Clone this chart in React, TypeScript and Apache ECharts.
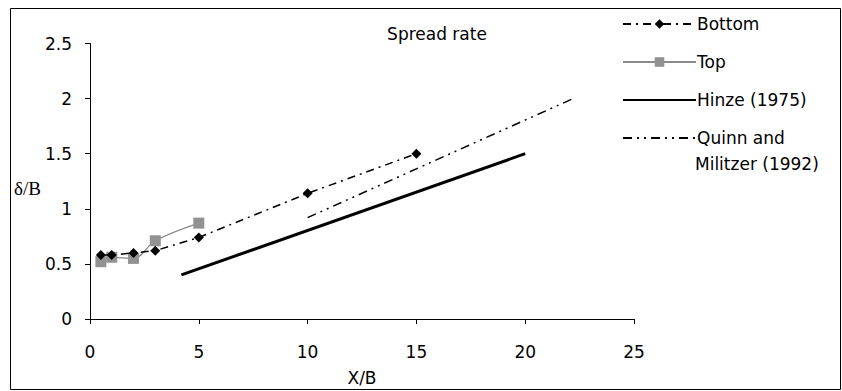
import React, { useEffect, useRef } from "react";
import * as echarts from "echarts";

const bottomData: [number, number][] = [
  [0.5, 0.58], [1, 0.58], [2, 0.6], [3, 0.62], [5, 0.74], [10, 1.14], [15, 1.5],
];
const topData: [number, number][] = [
  [0.5, 0.52], [1, 0.56], [2, 0.55], [3, 0.71], [5, 0.87],
];
const hinzeData: [number, number][] = [[4.2, 0.4], [20, 1.5]];
const quinnData: [number, number][] = [[10, 0.92], [22.2, 2.0]];
const seriesNames = ["Bottom", "Top", "Hinze (1975)", "Quinn and Militzer (1992)"];

const FONT = "DejaVu Sans, Arial, sans-serif";
const FS = 17;

export default function App() {
  const ref = useRef<HTMLDivElement>(null);
  useEffect(() => {
    const chart = echarts.init(ref.current!, null, { renderer: "svg" });
    chart.setOption({
      animation: false,
      backgroundColor: "#fff",
      title: {
        text: "Spread rate",
        left: 432,
        top: 20,
        textAlign: "center",
        textStyle: { fontFamily: FONT, fontSize: FS, fontWeight: "normal", color: "#000", lineHeight: 18 },
      },
      legend: {
        orient: "vertical",
        left: 617,
        top: 10,
        itemWidth: 73,
        itemHeight: 12,
        itemGap: 20,
        data: [
          { name: seriesNames[0] },
          { name: seriesNames[1] },
          { name: seriesNames[2], itemStyle: { opacity: 0 } },
          { name: seriesNames[3], itemStyle: { opacity: 0 } },
        ],
        formatter: (n: string) => (n.startsWith("Quinn") ? "Quinn and" : n),
        textStyle: { fontFamily: FONT, fontSize: FS, color: "#000", lineHeight: 18, padding: [0, 0, 0, -4] },
      },
      graphic: [
        {
          type: "rect",
          shape: { x: 10.5, y: 8.5, width: 830, height: 381 },
          style: { fill: "none", stroke: "#000", lineWidth: 1 },
          silent: true,
        },
        {
          type: "text",
          x: 695,
          y: 164,
          style: {
            text: "Militzer (1992)",
            font: `${FS}px ${FONT}`,
            fill: "#000",
            verticalAlign: "middle",
          },
        },
        {
          type: "text",
          x: 14,
          y: 188,
          style: {
            text: "δ/B",
            font: `19px "Liberation Serif", "Times New Roman", serif`,
            fill: "#000",
            verticalAlign: "middle",
          },
        },
      ],
      grid: { left: 90, right: 208, top: 43.5, bottom: 65, containLabel: false },
      xAxis: {
        type: "value",
        min: 0,
        max: 25,
        interval: 5,
        name: "X/B",
        nameLocation: "middle",
        nameGap: 50,
        nameTextStyle: { fontFamily: FONT, fontSize: FS, color: "#000" },
        axisLine: { lineStyle: { color: "#000", width: 1 } },
        axisTick: { show: true, length: 5, lineStyle: { color: "#000" } },
        axisLabel: { fontFamily: FONT, fontSize: FS, color: "#000", margin: 24 },
        splitLine: { show: false },
      },
      yAxis: {
        type: "value",
        min: 0,
        max: 2.5,
        interval: 0.5,
        axisLine: { show: true, lineStyle: { color: "#000", width: 1 } },
        axisTick: { show: true, length: 5, lineStyle: { color: "#000" } },
        axisLabel: { fontFamily: FONT, fontSize: FS, color: "#000", margin: 18 },
        splitLine: { show: false },
      },
      series: [
        {
          name: "Bottom",
          type: "line",
          data: bottomData,
          symbol: "diamond",
          symbolSize: 10,
          itemStyle: { color: "#000" },
          lineStyle: { color: "#000", width: 1.5, type: [8, 5, 2, 5] },
          z: 4,
        },
        {
          name: "Top",
          type: "line",
          data: topData,
          smooth: 0.35,
          symbol: "rect",
          symbolSize: 11,
          itemStyle: { color: "#929292" },
          lineStyle: { color: "#8a8a8a", width: 1.2 },
          z: 3,
        },
        {
          name: "Hinze (1975)",
          type: "line",
          data: hinzeData,
          symbol: "none",
          itemStyle: { color: "#000" },
          lineStyle: { color: "#000", width: 3 },
        },
        {
          name: "Quinn and Militzer (1992)",
          type: "line",
          data: quinnData,
          symbol: "none",
          itemStyle: { color: "#000" },
          lineStyle: { color: "#000", width: 1.5, type: [9, 5, 2, 5, 2, 5] },
        },
      ],
    });
    return () => chart.dispose();
  }, []);
  return (
    <div
      ref={ref}
      style={{ position: "fixed", left: 0, top: 0, width: 842, height: 391 }}
    />
  );
}
